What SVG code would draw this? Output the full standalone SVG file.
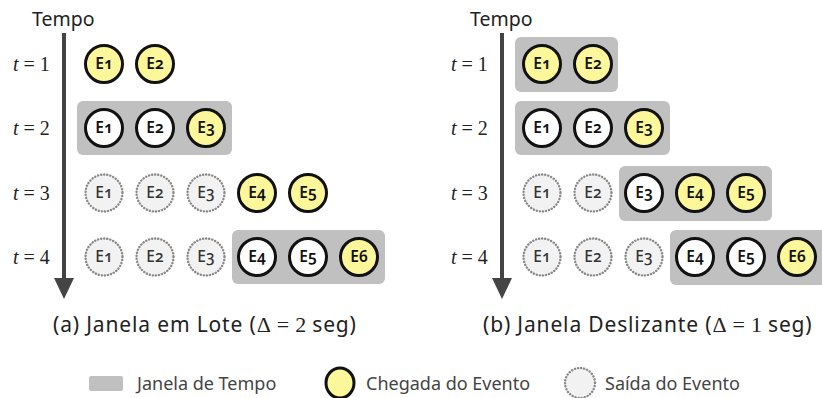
<svg xmlns="http://www.w3.org/2000/svg" width="822" height="398" viewBox="0 0 822 398">
  <defs>
    <style>
      .win { fill: #c0c0c0; }
      .arr { fill: #fbf79a; stroke: #111; stroke-width: 3; }
      .cur { fill: #ffffff; stroke: #111; stroke-width: 3; }
      .gone { fill: #f2f2f2; stroke: #888; stroke-width: 2.4; stroke-dasharray: 0.1 3; stroke-linecap: round; }
      .ev { font-family: "Noto Sans", "Open Sans", sans-serif; font-size: 15.5px; font-weight: 600; fill: #111; text-anchor: middle; font-variant-numeric: oldstyle-nums; }
      .gev { fill: #333; font-weight: 500; }
      .tl { font-family: "Liberation Serif", "DejaVu Serif", serif; font-size: 20px; fill: #222; }
      .lbl { font-family: "Noto Sans", "Open Sans", sans-serif; font-size: 19.5px; fill: #222; }
      .cap { font-family: "Noto Sans", "Open Sans", sans-serif; font-size: 21px; fill: #222; letter-spacing: 0.85px; }
      .math { font-family: "Liberation Serif", "DejaVu Serif", serif; font-size: 22px; letter-spacing: 0; }
      .leg { font-family: "Noto Sans", "Open Sans", sans-serif; font-size: 18px; fill: #444; }
      .axis { stroke: #444; stroke-width: 4; }
    </style>
    <g id="ax">
      <line class="axis" x1="64" y1="33" x2="64" y2="281"/>
      <polygon points="54,278 74,278 64,299" fill="#444"/>
    </g>
  </defs>

  <!-- Panel (a): batch windows -->
  <g id="panel-a">
    <text class="lbl" x="32" y="26">Tempo</text>
    <g id="axis-a"><use href="#ax"/></g>
    <text class="tl" x="13" y="71"><tspan font-style="italic">t</tspan><tspan dx="5">=</tspan><tspan dx="5">1</tspan></text>
    <text class="tl" x="13" y="135"><tspan font-style="italic">t</tspan><tspan dx="5">=</tspan><tspan dx="5">2</tspan></text>
    <text class="tl" x="13" y="200"><tspan font-style="italic">t</tspan><tspan dx="5">=</tspan><tspan dx="5">3</tspan></text>
    <text class="tl" x="13" y="264"><tspan font-style="italic">t</tspan><tspan dx="5">=</tspan><tspan dx="5">4</tspan></text>

    <rect id="a-win2" class="win" x="77" y="101" width="155" height="54" rx="6"/>
    <rect id="a-win4" class="win" x="232" y="230" width="153" height="54" rx="6"/>

    <g id="a-t1">
      <g id="a1-e1"><circle class="arr" cx="104" cy="64" r="18.5"/><text class="ev" x="104" y="69">E1</text></g>
      <g id="a1-e2"><circle class="arr" cx="155" cy="64" r="18.5"/><text class="ev" x="155" y="69">E2</text></g>
    </g>
    <g id="a-t2">
      <g id="a2-e1"><circle class="cur" cx="104" cy="128" r="18.5"/><text class="ev" x="104" y="133">E1</text></g>
      <g id="a2-e2"><circle class="cur" cx="155" cy="128" r="18.5"/><text class="ev" x="155" y="133">E2</text></g>
      <g id="a2-e3"><circle class="arr" cx="206" cy="128" r="18.5"/><text class="ev" x="206" y="133">E3</text></g>
    </g>
    <g id="a-t3">
      <g id="a3-e1"><circle class="gone" cx="104" cy="193" r="18.5"/><text class="ev gev" x="104" y="198">E1</text></g>
      <g id="a3-e2"><circle class="gone" cx="155" cy="193" r="18.5"/><text class="ev gev" x="155" y="198">E2</text></g>
      <g id="a3-e3"><circle class="gone" cx="206" cy="193" r="18.5"/><text class="ev gev" x="206" y="198">E3</text></g>
      <g id="a3-e4"><circle class="arr" cx="257" cy="193" r="18.5"/><text class="ev" x="257" y="198">E4</text></g>
      <g id="a3-e5"><circle class="arr" cx="308" cy="193" r="18.5"/><text class="ev" x="308" y="198">E5</text></g>
    </g>
    <g id="a-t4">
      <g id="a4-e1"><circle class="gone" cx="104" cy="257" r="18.5"/><text class="ev gev" x="104" y="262">E1</text></g>
      <g id="a4-e2"><circle class="gone" cx="155" cy="257" r="18.5"/><text class="ev gev" x="155" y="262">E2</text></g>
      <g id="a4-e3"><circle class="gone" cx="206" cy="257" r="18.5"/><text class="ev gev" x="206" y="262">E3</text></g>
      <g id="a4-e4"><circle class="cur" cx="257" cy="257" r="18.5"/><text class="ev" x="257" y="262">E4</text></g>
      <g id="a4-e5"><circle class="cur" cx="308" cy="257" r="18.5"/><text class="ev" x="308" y="262">E5</text></g>
      <g id="a4-e6"><circle class="arr" cx="359" cy="257" r="18.5"/><text class="ev" x="359" y="262">E6</text></g>
    </g>
    <text class="cap" x="53" y="332">(a) Janela em Lote (<tspan class="math">Δ</tspan><tspan class="math" dx="6">=</tspan><tspan class="math" dx="6">2</tspan><tspan dx="6">seg)</tspan></text>
  </g>

  <!-- Panel (b): sliding windows -->
  <g id="panel-b" transform="translate(438,0)">
    <text class="lbl" x="32" y="26">Tempo</text>
    <g id="axis-b"><use href="#ax"/></g>
    <text class="tl" x="13" y="71"><tspan font-style="italic">t</tspan><tspan dx="5">=</tspan><tspan dx="5">1</tspan></text>
    <text class="tl" x="13" y="135"><tspan font-style="italic">t</tspan><tspan dx="5">=</tspan><tspan dx="5">2</tspan></text>
    <text class="tl" x="13" y="200"><tspan font-style="italic">t</tspan><tspan dx="5">=</tspan><tspan dx="5">3</tspan></text>
    <text class="tl" x="13" y="264"><tspan font-style="italic">t</tspan><tspan dx="5">=</tspan><tspan dx="5">4</tspan></text>

    <rect id="b-win1" class="win" x="77" y="37" width="103" height="55" rx="6"/>
    <rect id="b-win2" class="win" x="77" y="101" width="155" height="54" rx="6"/>
    <rect id="b-win3" class="win" x="181" y="166" width="153" height="55" rx="6"/>
    <rect id="b-win4" class="win" x="232" y="230" width="160" height="55" rx="6"/>

    <g id="b-t1">
      <g id="b1-e1"><circle class="arr" cx="104" cy="64" r="18.5"/><text class="ev" x="104" y="69">E1</text></g>
      <g id="b1-e2"><circle class="arr" cx="155" cy="64" r="18.5"/><text class="ev" x="155" y="69">E2</text></g>
    </g>
    <g id="b-t2">
      <g id="b2-e1"><circle class="cur" cx="104" cy="128" r="18.5"/><text class="ev" x="104" y="133">E1</text></g>
      <g id="b2-e2"><circle class="cur" cx="155" cy="128" r="18.5"/><text class="ev" x="155" y="133">E2</text></g>
      <g id="b2-e3"><circle class="arr" cx="206" cy="128" r="18.5"/><text class="ev" x="206" y="133">E3</text></g>
    </g>
    <g id="b-t3">
      <g id="b3-e1"><circle class="gone" cx="104" cy="193" r="18.5"/><text class="ev gev" x="104" y="198">E1</text></g>
      <g id="b3-e2"><circle class="gone" cx="155" cy="193" r="18.5"/><text class="ev gev" x="155" y="198">E2</text></g>
      <g id="b3-e3"><circle class="cur" cx="206" cy="193" r="18.5"/><text class="ev" x="206" y="198">E3</text></g>
      <g id="b3-e4"><circle class="arr" cx="257" cy="193" r="18.5"/><text class="ev" x="257" y="198">E4</text></g>
      <g id="b3-e5"><circle class="arr" cx="308" cy="193" r="18.5"/><text class="ev" x="308" y="198">E5</text></g>
    </g>
    <g id="b-t4">
      <g id="b4-e1"><circle class="gone" cx="104" cy="257" r="18.5"/><text class="ev gev" x="104" y="262">E1</text></g>
      <g id="b4-e2"><circle class="gone" cx="155" cy="257" r="18.5"/><text class="ev gev" x="155" y="262">E2</text></g>
      <g id="b4-e3"><circle class="gone" cx="206" cy="257" r="18.5"/><text class="ev gev" x="206" y="262">E3</text></g>
      <g id="b4-e4"><circle class="cur" cx="257" cy="257" r="18.5"/><text class="ev" x="257" y="262">E4</text></g>
      <g id="b4-e5"><circle class="cur" cx="308" cy="257" r="18.5"/><text class="ev" x="308" y="262">E5</text></g>
      <g id="b4-e6"><circle class="arr" cx="359" cy="257" r="18.5"/><text class="ev" x="359" y="262">E6</text></g>
    </g>
    <text class="cap" x="45" y="332">(b) Janela Deslizante (<tspan class="math">Δ</tspan><tspan class="math" dx="6">=</tspan><tspan class="math" dx="6">1</tspan><tspan dx="6">seg)</tspan></text>
  </g>

  <!-- Legend -->
  <g id="legend">
    <rect class="win" x="89" y="376" width="34" height="15" rx="2"/>
    <text class="leg" x="137" y="390">Janela de Tempo</text>
    <ellipse class="arr" cx="340" cy="383" rx="14" ry="15" stroke-width="3"/>
    <text class="leg" x="366" y="390">Chegada do Evento</text>
    <ellipse class="gone" cx="580" cy="383" rx="15" ry="15"/>
    <text class="leg" x="605" y="390">Saída do Evento</text>
  </g>
</svg>
